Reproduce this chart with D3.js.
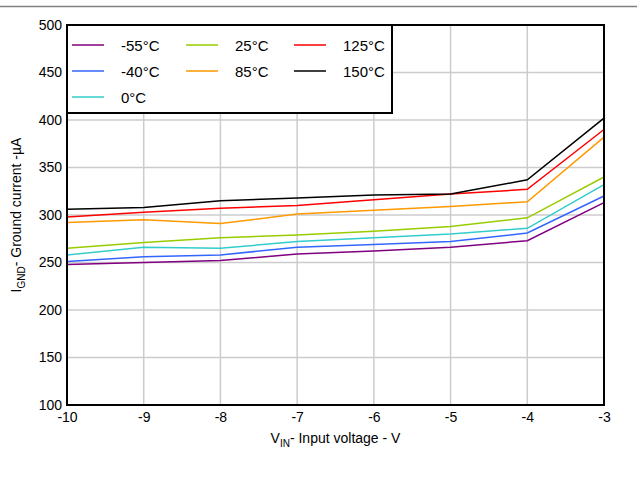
<!DOCTYPE html>
<html>
<head>
<meta charset="utf-8">
<script src="https://cdn.jsdelivr.net/npm/d3@7"></script>
<style>
  body { margin: 0; background: #fff; }
  svg text { font-family: "Liberation Sans", Arial, sans-serif; fill: #000; }
</style>
</head>
<body>
<div id="chart"></div>
<script>
// Input voltage (V)
const vin = [-10, -9, -8, -7, -6, -5, -4, -3];

// Ground current (uA) per temperature
const temps = ["-55°C", "-40°C", "0°C", "25°C", "85°C", "125°C", "150°C"];
const colors = ["#800080", "#3366ff", "#33cccc", "#99cc00", "#ff9900", "#ff0000", "#000000"];
const i55n = [248, 250, 252, 259, 262, 266, 273, 313];
const i40n = [251, 256, 258, 266, 269, 272, 281, 320];
const i0   = [258, 266, 265, 272, 276, 280, 286, 332];
const i25  = [265, 271, 276, 279, 283, 288, 297, 340];
const i85  = [292, 295, 291, 301, 305, 309, 314, 382];
const i125 = [298, 303, 307, 310, 316, 322, 327, 390];
const i150 = [306, 308, 315, 318, 321, 322, 337, 402];
const seriesValues = [i55n, i40n, i0, i25, i85, i125, i150];

const xTicks = [-10, -9, -8, -7, -6, -5, -4, -3];
const yTicks = [100, 150, 200, 250, 300, 350, 400, 450, 500];

const width = 637, height = 494;
const m = { top: 25, right: 33, bottom: 89, left: 67 };

const svg = d3.select("#chart").append("svg")
    .attr("width", width)
    .attr("height", height);

// header rule
svg.append("line")
    .attr("x1", 0).attr("x2", width)
    .attr("y1", 6.5).attr("y2", 6.5)
    .attr("stroke", "#808080")
    .attr("stroke-width", 1.5);

const x = d3.scaleLinear().domain([-10, -3]).range([m.left, width - m.right]);
const y = d3.scaleLinear().domain([100, 500]).range([height - m.bottom, m.top]);

// plain hyphen for negatives, like the original
const fmt = d => String(d);

// grid
svg.append("g").selectAll("line.vg")
    .data(xTicks.slice(1, -1))
    .join("line")
    .attr("x1", d => x(d)).attr("x2", d => x(d))
    .attr("y1", y(500)).attr("y2", y(100))
    .attr("stroke", "#cccccc").attr("stroke-width", 1.5);

svg.append("g").selectAll("line.hg")
    .data(yTicks.slice(1, -1))
    .join("line")
    .attr("x1", x(-10)).attr("x2", x(-3))
    .attr("y1", d => y(d)).attr("y2", d => y(d))
    .attr("stroke", "#cccccc").attr("stroke-width", 1.5);

// series
const line = d3.line()
    .x((d, i) => x(vin[i]))
    .y(d => y(d));

svg.append("g").selectAll("path")
    .data(seriesValues)
    .join("path")
    .attr("d", line)
    .attr("fill", "none")
    .attr("stroke", (d, i) => colors[i])
    .attr("stroke-width", 1.5);

// frame
svg.append("rect")
    .attr("x", x(-10)).attr("y", y(500))
    .attr("width", x(-3) - x(-10))
    .attr("height", y(100) - y(500))
    .attr("fill", "none")
    .attr("stroke", "#000")
    .attr("stroke-width", 2);

// axes (labels only)
const xAxis = svg.append("g")
    .attr("transform", `translate(0, ${y(100)})`)
    .call(d3.axisBottom(x).tickValues(xTicks).tickSize(0).tickPadding(7).tickFormat(fmt));
xAxis.select(".domain").remove();
xAxis.selectAll("text").attr("font-size", "14px").attr("font-family", "Liberation Sans, Arial, sans-serif");

const yAxis = svg.append("g")
    .attr("transform", `translate(${x(-10)}, 0)`)
    .call(d3.axisLeft(y).tickValues(yTicks).tickSize(0).tickPadding(5).tickFormat(fmt));
yAxis.select(".domain").remove();
yAxis.selectAll("text").attr("font-size", "14px").attr("font-family", "Liberation Sans, Arial, sans-serif");

// axis titles
const xt = svg.append("text")
    .attr("x", (x(-10) + x(-3)) / 2)
    .attr("y", 443)
    .attr("text-anchor", "middle")
    .attr("font-size", "14px");
xt.append("tspan").text("V");
xt.append("tspan").attr("font-size", "10px").attr("dy", 4).text("IN");
xt.append("tspan").attr("dy", -4).text("- Input voltage - V");

const yl = { x: 21, y: (y(100) + y(500)) / 2 };
const yt = svg.append("text")
    .attr("x", yl.x).attr("y", yl.y)
    .attr("text-anchor", "middle")
    .attr("font-size", "14px")
    .attr("transform", `rotate(-90, ${yl.x}, ${yl.y})`);
yt.append("tspan").text("I");
yt.append("tspan").attr("font-size", "10px").attr("dy", 4).text("GND");
yt.append("tspan").attr("dy", -4).text("- Ground current -µA");

// legend
const lg = svg.append("g");
lg.append("rect")
    .attr("x", x(-10)).attr("y", y(500))
    .attr("width", 325).attr("height", 88)
    .attr("fill", "#fff")
    .attr("stroke", "#000")
    .attr("stroke-width", 2);

const colX = [72, 186, 294];
const rowY = [45, 71, 97];
temps.forEach((t, i) => {
    const col = i < 3 ? 0 : (i < 5 ? 1 : 2);
    const row = i < 3 ? i : (i < 5 ? i - 3 : i - 5);
    const lx = colX[col], ly = rowY[row];
    lg.append("line")
        .attr("x1", lx).attr("x2", lx + 32)
        .attr("y1", ly).attr("y2", ly)
        .attr("stroke", colors[i]).attr("stroke-width", 1.5);
    lg.append("text")
        .attr("x", lx + 49).attr("y", ly + 5.5)
        .attr("font-size", "15px")
        .text(t);
});
</script>
</body>
</html>
